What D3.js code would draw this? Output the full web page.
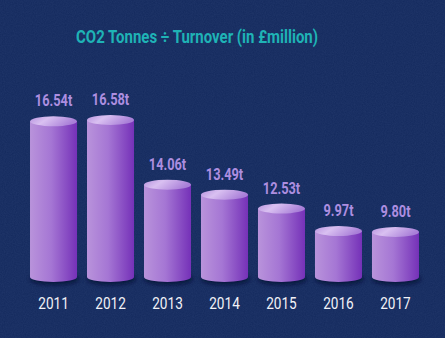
<!DOCTYPE html>
<html>
<head>
<meta charset="utf-8">
<script src="https://cdn.jsdelivr.net/npm/d3@7"></script>
<style>
  html, body { margin: 0; padding: 0; background: #13295d; }
  svg { display: block; }
</style>
</head>
<body>
<div id="chart"></div>
<script>
// CO2 tonnes per £million turnover
const years = ['2011', '2012', '2013', '2014', '2015', '2016', '2017']
const values = [16.54, 16.58, 14.06, 13.49, 12.53, 9.97, 9.80]
const valueLabels = ['16.54t', '16.58t', '14.06t', '13.49t', '12.53t', '9.97t', '9.80t']
const title = 'CO2 Tonnes ÷ Turnover (in £million)'

const width = 445
const height = 338
const baseY = 277   // centre of the bottom ellipse
const ry = 5
const font = 'Roboto,"Liberation Sans",sans-serif'

const svg = d3.select('#chart').append('svg')
  .attr('width', width)
  .attr('height', height)

const defs = svg.append('defs')

// faint noise on the navy background
const noise = defs.append('filter').attr('id', 'noise')
  .attr('x', 0).attr('y', 0).attr('width', '100%').attr('height', '100%')
noise.append('feTurbulence')
  .attr('type', 'fractalNoise').attr('baseFrequency', 0.9).attr('numOctaves', 2).attr('result', 't')
noise.append('feColorMatrix').attr('in', 't').attr('type', 'matrix')
  .attr('values', '0 0 0 0 0.3  0 0 0 0 0.4  0 0 0 0 0.7  0 0 0 0.10 0')

const bodyGrad = defs.append('linearGradient').attr('id', 'body')
  .attr('x1', 0).attr('x2', 1).attr('y1', 0).attr('y2', 0)
bodyGrad.append('stop').attr('offset', '0%').attr('stop-color', '#b993db')
bodyGrad.append('stop').attr('offset', '45%').attr('stop-color', '#a576d4')
bodyGrad.append('stop').attr('offset', '100%').attr('stop-color', '#7531b8')

const topGrad = defs.append('linearGradient').attr('id', 'top')
  .attr('x1', 0).attr('x2', 1).attr('y1', 0).attr('y2', 0.3)
topGrad.append('stop').attr('offset', '0%').attr('stop-color', '#b894df')
topGrad.append('stop').attr('offset', '40%').attr('stop-color', '#d9c0f1')
topGrad.append('stop').attr('offset', '100%').attr('stop-color', '#a97fd8')

const shadow = defs.append('filter').attr('id', 'shadow')
  .attr('x', '-20%').attr('y', '-50%').attr('width', '140%').attr('height', '200%')
shadow.append('feGaussianBlur').attr('stdDeviation', 2)

svg.append('rect')
  .attr('width', width).attr('height', height)
  .attr('fill', '#13295d')
svg.append('rect')
  .attr('width', width).attr('height', height)
  .attr('filter', 'url(#noise)')

// Title (condensed look via textLength)
svg.append('text')
  .attr('x', 76)
  .attr('y', 43)
  .attr('textLength', 242)
  .attr('lengthAdjust', 'spacingAndGlyphs')
  .attr('fill', '#1fb3b6')
  .attr('font-family', font)
  .attr('font-weight', 'bold')
  .attr('font-size', '18px')
  .text(title)

// Scales
const x = d3.scaleBand()
  .domain(years)
  .range([25, 424])
  .paddingInner(0.175)
  .paddingOuter(0.088)

// the source graphic is not drawn to a linear scale; a power scale follows it closely
const y = d3.scalePow()
  .exponent(4.5)
  .domain(d3.extent(values))
  .range([baseY - 45, baseY - 157])

const data = years.map((yr, i) => ({ year: yr, value: values[i], label: valueLabels[i] }))

const bars = svg.append('g').attr('class', 'bars')
  .selectAll('g')
  .data(data)
  .join('g')
  .attr('transform', d => `translate(${x(d.year) + x.bandwidth() / 2},0)`)

const rx = x.bandwidth() / 2

// soft shadow under each cylinder
bars.append('ellipse')
  .attr('cx', 1).attr('cy', baseY + 2)
  .attr('rx', rx + 1).attr('ry', ry + 1)
  .attr('fill', '#050f2e')
  .attr('opacity', 0.7)
  .attr('filter', 'url(#shadow)')

bars.append('path')
  .attr('d', d => {
    const t = y(d.value)
    return `M${-rx},${t} L${-rx},${baseY} A${rx},${ry} 0 0 0 ${rx},${baseY} L${rx},${t} Z`
  })
  .attr('fill', 'url(#body)')

bars.append('ellipse')
  .attr('cx', 0)
  .attr('cy', d => y(d.value))
  .attr('rx', rx)
  .attr('ry', ry)
  .attr('fill', 'url(#top)')

// value labels, horizontally squeezed
bars.append('text')
  .attr('transform', d => `translate(0,${y(d.value) - ry - 10}) scale(0.8,1)`)
  .attr('text-anchor', 'middle')
  .attr('fill', '#ad8ee0')
  .attr('font-family', font)
  .attr('font-weight', 'bold')
  .attr('font-size', '16px')
  .text(d => d.label)

// year axis
svg.append('g')
  .attr('transform', `translate(0,${baseY + 32})`)
  .call(d3.axisBottom(x).tickSize(0).tickPadding(0))
  .call(g => {
    g.select('.domain').remove()
    g.selectAll('.tick text')
      .attr('dy', 0)
      .attr('transform', 'scale(0.85,1)')
      .attr('fill', '#f2f2f7')
      .attr('font-size', '16px')
      .attr('font-family', font)
  })
</script>
</body>
</html>
